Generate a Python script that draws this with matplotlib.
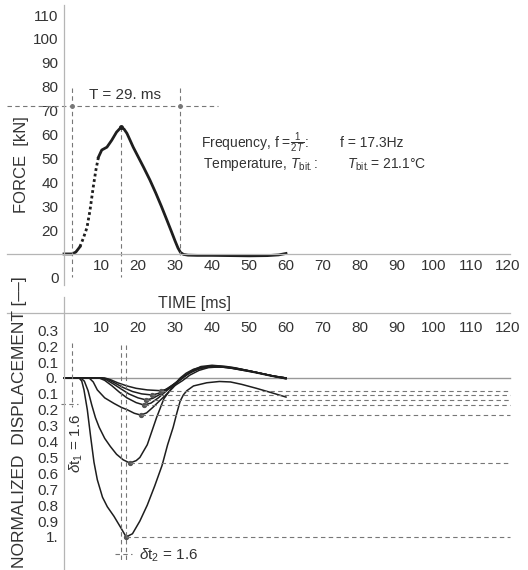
import numpy as np
import matplotlib
matplotlib.use("Agg")
import matplotlib.pyplot as plt

# ------------------------------------
# DATA
# ------------------------------------
time_ticks = [10, 20, 30, 40, 50, 60, 70, 80, 90, 100, 110, 120]
force_ticks = [0, 20, 30, 40, 50, 60, 70, 80, 90, 100, 110]
disp_ticks = [0.3, 0.2, 0.1, 0.0, -0.1, -0.2, -0.3, -0.4, -0.5, -0.6, -0.7, -0.8, -0.9, -1.0]
disp_tick_labels = ["0.3", "0.2", "0.1", "0.", "0.1", "0.2", "0.3", "0.4", "0.5",
                    "0.6", "0.7", "0.8", "0.9", "1."]

force_t = [0, 2.2, 3.2, 4.3, 5.2, 6.2, 7.0, 7.9, 8.6, 9.3, 10.2, 11.6, 12.9, 14.2, 15.4,
           16.2, 17.0, 17.8, 18.7, 20.0, 21.5, 23.2, 24.8, 26.3, 27.8, 29.0, 30.0, 30.8,
           31.5, 32.3, 33.5, 36, 40, 45, 50, 55, 58, 60]
force_v = [10, 10, 10.8, 13, 16.5, 21, 28, 38, 45, 50.5, 53.5, 54.7, 57.6, 61, 63,
           62.3, 60.5, 57.8, 54.7, 50.8, 46.3, 41, 35.5, 30, 24.2, 19.5, 15.5, 12.5,
           10.6, 9.8, 9.5, 9.4, 9.4, 9.3, 9.2, 9.3, 9.6, 10.2]

# normalized displacement curves (negative = downwards)
curve_a_t = [0, 4.1, 4.8, 5.4, 6.3, 7.2, 8.1, 9.0, 10.4, 11.7, 13.5, 15.3, 16.8, 18.5,
             20.5, 22.5, 24.5, 26.5, 28.0, 29.5, 30.5, 31.4, 32.3, 33.2, 35, 38.6, 42,
             45, 48, 52, 56, 60]
curve_a_v = [0, 0, -0.02, -0.075, -0.2, -0.37, -0.53, -0.64, -0.75, -0.81, -0.87, -0.94,
             -1.0, -0.98, -0.9, -0.8, -0.68, -0.55, -0.42, -0.31, -0.22, -0.145, -0.105,
             -0.08, -0.05, -0.03, -0.022, -0.025, -0.04, -0.065, -0.092, -0.12]

curve_b_t = [0, 4.5, 5.5, 6.5, 7.5, 8.5, 9.5, 11.0, 12.5, 14.2, 16.0, 17.8, 19.5, 20.5,
             22.5, 25.0, 27.0, 29.5, 31.4, 33, 35, 37, 40, 44, 48, 52, 56, 60]
curve_b_v = [0, 0, -0.02, -0.08, -0.17, -0.25, -0.31, -0.38, -0.43, -0.48, -0.515, -0.535,
             -0.52, -0.50, -0.42, -0.25, -0.13, -0.05, 0.0, 0.03, 0.055, 0.068, 0.072,
             0.066, 0.05, 0.035, 0.015, 0.0]

curve_c_t = [0, 6.8, 7.9, 9.0, 11.0, 13.5, 15.5, 17.1, 19.0, 20.7, 22.3, 24.0, 26.0, 27.8,
             29.5, 31.0, 32.5, 34.5, 37, 40, 43, 46, 50, 55, 60]
curve_c_v = [0, 0, -0.025, -0.075, -0.125, -0.16, -0.185, -0.2, -0.222, -0.233, -0.22,
             -0.185, -0.14, -0.1, -0.06, -0.02, 0.01, 0.04, 0.062, 0.07, 0.068, 0.06,
             0.045, 0.02, -0.005]

curve_d_t = [0, 9.5, 11.0, 13.0, 15.0, 17.0, 19.5, 21.6, 23.5, 25.5, 27.5, 29.5, 31.5,
             34, 37, 40, 44, 48, 52, 56, 60]
curve_d_v = [0, 0, -0.015, -0.05, -0.09, -0.125, -0.155, -0.17, -0.158, -0.125, -0.085,
             -0.045, -0.005, 0.035, 0.065, 0.075, 0.068, 0.05, 0.032, 0.012, -0.005]

curve_e_t = [0, 10.0, 11.5, 13.5, 15.5, 17.5, 20.0, 22.2, 24.0, 26.0, 28.0, 30.0, 32.0,
             34.5, 37, 40, 44, 48, 52, 56, 60]
curve_e_v = [0, 0, -0.012, -0.04, -0.07, -0.1, -0.125, -0.138, -0.128, -0.102, -0.068,
             -0.033, 0.003, 0.045, 0.072, 0.08, 0.072, 0.055, 0.035, 0.015, 0.0]

curve_f_t = [0, 10.5, 12.0, 14.0, 16.0, 18.5, 21.0, 23.8, 25.5, 27.5, 29.5, 31.5, 33.5,
             36, 39, 42, 46, 50, 54, 57, 60]
curve_f_v = [0, 0, -0.01, -0.035, -0.06, -0.085, -0.1, -0.107, -0.097, -0.072, -0.042,
             -0.01, 0.025, 0.055, 0.072, 0.075, 0.065, 0.045, 0.025, 0.01, 0.0]

curve_g_t = [0, 11.0, 12.5, 14.5, 17.0, 19.5, 22.5, 26.2, 28.0, 30.0, 32.0, 34.0, 36.5,
             39, 42, 46, 50, 54, 57, 60]
curve_g_v = [0, 0, -0.01, -0.03, -0.05, -0.065, -0.075, -0.08, -0.07, -0.047, -0.017,
             0.018, 0.048, 0.065, 0.07, 0.062, 0.045, 0.025, 0.01, 0.0]

disp_curves = [
    (curve_a_t, curve_a_v),
    (curve_b_t, curve_b_v),
    (curve_c_t, curve_c_v),
    (curve_d_t, curve_d_v),
    (curve_e_t, curve_e_v),
    (curve_f_t, curve_f_v),
    (curve_g_t, curve_g_v),
]

# characteristic times / levels
t_start = 2.2
t_end = 31.4
t_peak = 15.4
t_peak_disp = 16.8
force_level = 72

# ------------------------------------
# STYLE
# ------------------------------------
plt.rcParams["font.family"] = ["Liberation Sans", "DejaVu Sans"]
plt.rcParams["mathtext.fontset"] = "custom"
plt.rcParams["mathtext.rm"] = "Liberation Sans"
plt.rcParams["mathtext.it"] = "Liberation Sans:italic"
plt.rcParams["mathtext.bf"] = "Liberation Sans:bold"

AXIS_C = "#b5b5b5"
DASH_C = "#777777"
TEXT_C = "#333333"
LINE_C = "#1e1e1e"
DASH = dict(color=DASH_C, lw=0.8, dashes=(4, 3))

X_LIM = (-17.3, 125.4)


def style_axes(ax, xpos, ybounds):
    for side in ["top", "right"]:
        ax.spines[side].set_visible(False)
    ax.spines["left"].set_position(("data", 0))
    ax.spines["bottom"].set_position(("data", xpos))
    ax.spines["left"].set_bounds(*ybounds)
    ax.spines["bottom"].set_bounds(-15.4, 120.5)
    for side in ["left", "bottom"]:
        ax.spines[side].set_color(AXIS_C)
        ax.spines[side].set_linewidth(0.9)
    ax.tick_params(length=0, labelsize=11, labelcolor=TEXT_C)
    ax.tick_params(axis="x", pad=4)
    ax.tick_params(axis="y", pad=4)
    ax.set_xlim(*X_LIM)
    ax.patch.set_visible(False)


fig = plt.figure(figsize=(5.28, 5.70), dpi=100)

# ------------------------------------
# Top: force
# ------------------------------------
ax1 = fig.add_axes([0, 0.5, 1, 0.5])
ax1.set_ylim(-3, 116.3)
style_axes(ax1, 10, (-3, 114))
ax1.set_xticks(time_ticks)
ax1.set_yticks(force_ticks)

ft = np.array(force_t)
fv = np.array(force_v)
solid_a = ft <= 4.3
dotted = (ft >= 4.3) & (ft <= 9.3)
solid_b = ft >= 9.3
ax1.plot(ft[solid_a], fv[solid_a], color=LINE_C, lw=2)
ax1.plot(ft[dotted], fv[dotted], color=LINE_C, lw=2, ls=(0, (1, 1)))
ax1.plot(ft[solid_b], fv[solid_b], color=LINE_C, lw=2)

ax1.plot([-15.4, 41.6], [force_level, force_level], **DASH)
ax1.plot([t_start, t_start], [79.5, 0.4], **DASH)
ax1.plot([t_end, t_end], [79.5, 9.5], **DASH)
ax1.plot([t_peak, t_peak], [63, 0.4], **DASH)
ax1.plot([t_start, t_end], [force_level, force_level], "o", color=DASH_C, ms=2.5)
ax1.plot([t_peak], [max(force_v)], "o", color=LINE_C, ms=2.5)

ax1.text(16.5, 76.5, "T = %d. ms" % round(t_end - t_start), ha="center", va="center",
         fontsize=11, color=TEXT_C)
ax1.text(37, 56.5, r"Frequency, f =$\frac{1}{2\,T}$:", ha="left", va="center",
         fontsize=10, color=TEXT_C)
ax1.text(74.5, 56.5, "f = 17.3Hz", ha="left", va="center", fontsize=10, color=TEXT_C)
ax1.text(37.6, 47.4, r"Temperature, $T_{\mathrm{bit.}}$:", ha="left", va="center",
         fontsize=10, color=TEXT_C)
ax1.text(76.5, 47.4, r"$T_{\mathrm{bit.}}$= 21.1°C", ha="left", va="center",
         fontsize=10, color=TEXT_C)

fig.text(22 / 528, 1 - 165 / 570, "FORCE  [kN]", rotation=90, ha="center", va="center",
         fontsize=12, color=TEXT_C)

# ------------------------------------
# Bottom: normalized displacement
# ------------------------------------
ax2 = fig.add_axes([0, 0, 1, 0.5])
ax2.set_ylim(-1.208, 0.585)
style_axes(ax2, 0.41, (-1.208, 0.51))
ax2.tick_params(axis="x", pad=6)
ax2.set_xticks(time_ticks)
ax2.set_yticks(disp_ticks)
ax2.set_yticklabels(disp_tick_labels)

ax2.plot([0, 120.5], [0, 0], color="#999999", lw=1.0)

for t, v in disp_curves:
    ax2.plot(t, v, color=LINE_C, lw=1.1)
    i = int(np.argmin(v))
    ax2.plot([t[i]], [v[i]], "o", color="#555555", ms=2.8)
    ax2.plot([t[i], 120.5], [v[i], v[i]], **DASH)

ax2.plot([t_start, t_start], [0.22, -0.18], **DASH)
ax2.plot([-0.8, 3.8], [-0.165, -0.165], **DASH)
ax2.plot([t_peak, t_peak], [0.21, -1.16], **DASH)
ax2.plot([t_peak_disp, t_peak_disp], [0.21, -1.16], **DASH)
ax2.plot([13.8, 18.4], [-1.105, -1.105], **DASH)

ax2.text(3.3, -0.41, r"$\delta$t$_1$ = 1.6", rotation=90, ha="center", va="center",
         fontsize=11, color=TEXT_C)
ax2.text(20.3, -1.113, r"$\delta$t$_2$ = 1.6", ha="left", va="center",
         fontsize=11, color=TEXT_C)
ax2.text(35.4, 0.47, "TIME [ms]", ha="center", va="center", fontsize=11.5, color=TEXT_C)

fig.text(20 / 528, 1 - 422 / 570, "NORMALIZED  DISPLACEMENT [––]", rotation=90,
         ha="center", va="center", fontsize=12.5, color=TEXT_C)

fig.savefig("out.png", dpi=100)
